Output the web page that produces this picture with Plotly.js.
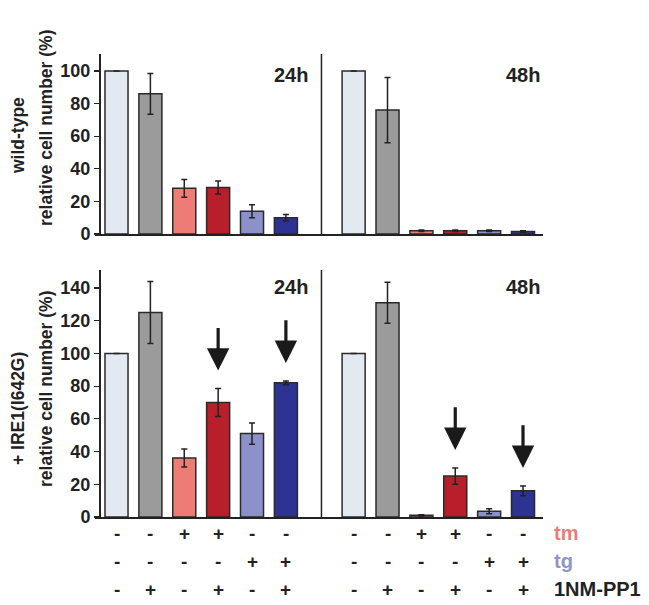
<!DOCTYPE html>
<html>
<head>
<meta charset="utf-8">
<script src="https://cdn.plot.ly/plotly-3.0.1.min.js"></script>
<style>
  html, body { margin: 0; padding: 0; background: #fff; }
  #plot { width: 649px; height: 605px; }
</style>
</head>
<body>
<div id="plot"></div>
<script>
// treatment flags per bar (two time groups of six)
const tmRow  = ["-", "-", "+", "+", "-", "-", "-", "-", "+", "+", "-", "-"];
const tgRow  = ["-", "-", "-", "-", "+", "+", "-", "-", "-", "-", "+", "+"];
const ppRow  = ["-", "+", "-", "+", "-", "+", "-", "+", "-", "+", "-", "+"];
const timeLabels = ["24h", "48h"];

// wild-type, relative cell number (%)
const wtValues = [100, 86, 28, 28.5, 14, 10, 100, 76, 2, 2, 2, 1.5];
const wtErrors = [0, 12.5, 5.5, 4, 4, 2, 0, 20, 0.5, 0.5, 0.5, 0.5];

// + IRE1(I642G), relative cell number (%)
const ireValues = [100, 125, 36, 70, 51, 82, 100, 131, 1, 25, 3.5, 16];
const ireErrors = [0, 19, 5.5, 8.5, 6.5, 1.2, 0, 12.5, 0.4, 5, 1.5, 3];

// bars marked with an arrow in the lower panel
const arrowBars = [3, 5, 9, 11];

const barColors = ["#e3e9f0", "#9b9b9b", "#ef7b76", "#b91f2a", "#8c92c9", "#2c3393"];

const FONT = "Liberation Sans, Arial, Helvetica, sans-serif";
const W = 649, H = 605;
const px = v => v / W;
const py = v => (H - v) / H;

// skip one slot between the 24h and 48h groups
const xpos = wtValues.map((_, i) => (i < 6 ? i : i + 1));
const colors = wtValues.map((_, i) => barColors[i % 6]);

function barTrace(values, errors, xa, ya) {
  return {
    type: "bar",
    x: xpos,
    y: values,
    xaxis: xa,
    yaxis: ya,
    width: 0.68,
    marker: { color: colors, line: { color: "#2a2a2a", width: 1.5 } },
    error_y: {
      type: "data",
      array: errors.map(e => (e > 0 ? e : null)),
      visible: true,
      color: "#222",
      thickness: 1.5,
      width: 3
    },
    hoverinfo: "skip",
    showlegend: false
  };
}

const data = [
  barTrace(wtValues, wtErrors, "x", "y"),
  barTrace(ireValues, ireErrors, "x2", "y2")
];

const xRange = [-0.635, 12.59];
const xDomain = [px(95), px(543)];
const tickFont = { family: FONT, size: 18, color: "#222", weight: "bold" };

const annotations = [];

// panel time labels
const timeX = [5.15, 12];
[["x", "y", 97.5], ["x2", "y2", 140.5]].forEach(([xr, yr, yv]) => {
  timeLabels.forEach((t, k) => {
    annotations.push({
      xref: xr, yref: yr, x: timeX[k], y: yv, text: t, showarrow: false,
      font: { family: FONT, size: 20, color: "#222", weight: "bold" }
    });
  });
});

// y-axis titles
function yTitle(text, xPix, yPix) {
  annotations.push({
    xref: "paper", yref: "paper", x: px(xPix), y: py(yPix), text: text,
    textangle: -90, showarrow: false, xanchor: "center", yanchor: "middle",
    font: { family: FONT, size: 17.5, color: "#222", weight: "bold" }
  });
}
yTitle("wild-type", 18, 136);
yTitle("relative cell number (%)", 46, 128);
yTitle("+ IRE1(I642G)", 18, 409);
yTitle("relative cell number (%)", 46, 389);

// arrows over rescued bars
arrowBars.forEach(i => {
  const top = ireValues[i] + ireErrors[i];
  annotations.push({
    xref: "x2", yref: "y2", axref: "x2", ayref: "y2",
    x: xpos[i], y: top + 11, ax: xpos[i], ay: top + 38,
    text: "", showarrow: true, arrowhead: 2, arrowsize: 1.4,
    arrowwidth: 3.2, arrowcolor: "#1a1a1a", standoff: 0
  });
});

// treatment rows under the bars
const rows = [
  { vals: tmRow, y: 533, name: "tm", color: "#ef7b76" },
  { vals: tgRow, y: 561, name: "tg", color: "#8f94cc" },
  { vals: ppRow, y: 589, name: "1NM-PP1", color: "#222" }
];
rows.forEach(r => {
  r.vals.forEach((s, i) => {
    annotations.push({
      xref: "x2", yref: "paper", x: xpos[i], y: py(r.y), text: s,
      showarrow: false, yanchor: "middle",
      font: { family: FONT, size: 19, color: "#222", weight: "bold" }
    });
  });
  annotations.push({
    xref: "paper", yref: "paper", x: px(552), y: py(r.y), text: r.name,
    showarrow: false, xanchor: "left", yanchor: "middle",
    font: { family: FONT, size: 20, color: r.color, weight: "bold" }
  });
});

// vertical separators between 24h and 48h
const shapes = [["x", "y"], ["x2", "y2"]].map(([xr, yr]) => ({
  type: "line", xref: xr, yref: yr + " domain",
  x0: 6.05, x1: 6.05, y0: 0, y1: 1,
  line: { color: "#222", width: 1.5 }
}));

const xAxisBase = {
  range: xRange,
  domain: xDomain,
  showline: true, linecolor: "#222", linewidth: 1.5,
  showticklabels: false, ticks: "", showgrid: false, zeroline: false,
  fixedrange: true
};
const yAxisBase = {
  anchor: "free", position: px(99),
  showline: true, linecolor: "#222", linewidth: 1.5,
  ticks: "outside", ticklen: 5, tickwidth: 1.2, tickcolor: "#222",
  tickfont: tickFont, showgrid: false, zeroline: false,
  fixedrange: true
};

const layout = {
  width: W, height: H,
  margin: { l: 0, r: 0, t: 0, b: 0 },
  paper_bgcolor: "#fff", plot_bgcolor: "rgba(0,0,0,0)",
  xaxis: Object.assign({}, xAxisBase, { anchor: "y" }),
  xaxis2: Object.assign({}, xAxisBase, { anchor: "y2" }),
  yaxis: Object.assign({}, yAxisBase, {
    domain: [py(234), py(54)], range: [0, 110.4], dtick: 20
  }),
  yaxis2: Object.assign({}, yAxisBase, {
    domain: [py(517), py(270)], range: [0, 151], dtick: 20
  }),
  annotations: annotations,
  shapes: shapes,
  bargap: 0
};

Plotly.newPlot("plot", data, layout, { displayModeBar: false, staticPlot: true });
</script>
</body>
</html>
